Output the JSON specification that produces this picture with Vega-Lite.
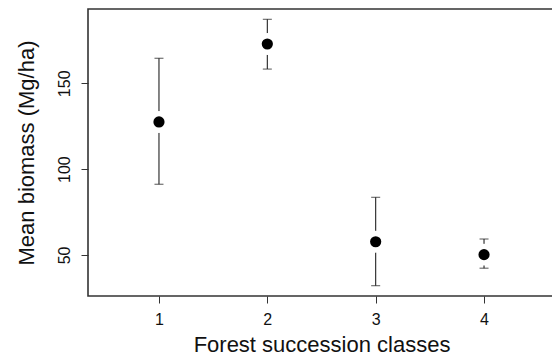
{
  "$schema": "https://vega.github.io/schema/vega-lite/v6.json",
  "autosize": "none",
  "width": 467,
  "height": 287,
  "padding": {"left": 88, "top": 9, "right": 0, "bottom": 67},
  "background": "white",
  "config": {
    "view": {"stroke": "#333333", "strokeWidth": 1.6},
    "font": "Liberation Sans"
  },
  "data": {
    "values": [
      {"cls": 1, "mean": 127.5, "lower": 91.2, "upper": 164.6},
      {"cls": 2, "mean": 172.9, "lower": 158.3, "upper": 187.3},
      {"cls": 3, "mean": 57.7, "lower": 32.1, "upper": 83.6},
      {"cls": 4, "mean": 50.2, "lower": 42.3, "upper": 59.3}
    ]
  },
  "encoding": {
    "x": {
      "field": "cls",
      "type": "quantitative",
      "scale": {"domain": [0.345, 4.655], "nice": false, "zero": false},
      "axis": {
        "values": [1, 2, 3, 4], "title": "Forest succession classes",
        "grid": false, "domain": false, "tickColor": "#333333", "tickSize": 7, "tickWidth": 1,
        "labelFont": "Liberation Sans", "labelFontSize": 16, "labelColor": "#111111", "labelPadding": 8,
        "titleFont": "Liberation Sans", "titleFontSize": 22, "titleFontWeight": "normal", "titleColor": "#111111", "titlePadding": 7
      }
    }
  },
  "layer": [
    {
      "mark": {"type": "rule", "color": "#222222", "strokeWidth": 1.1},
      "encoding": {
        "y": {
          "field": "lower",
          "type": "quantitative",
          "scale": {"domain": [26.1, 193.3], "nice": false, "zero": false},
          "axis": {
            "values": [50, 100, 150], "title": "Mean biomass (Mg/ha)", "labelAngle": -90,
            "grid": false, "domain": false, "tickColor": "#333333", "tickSize": 7, "tickWidth": 1,
            "labelFont": "Liberation Sans", "labelFontSize": 16, "labelColor": "#111111", "labelPadding": 9,
            "titleFont": "Liberation Sans", "titleFontSize": 22, "titleFontWeight": "normal", "titleColor": "#111111", "titlePadding": 18
          }
        },
        "y2": {"field": "upper"}
      }
    },
    {
      "mark": {"type": "tick", "orient": "horizontal", "size": 9, "thickness": 1.1, "color": "#222222"},
      "encoding": {"y": {"field": "upper", "type": "quantitative"}}
    },
    {
      "mark": {"type": "tick", "orient": "horizontal", "size": 9, "thickness": 1.1, "color": "#222222"},
      "encoding": {"y": {"field": "lower", "type": "quantitative"}}
    },
    {
      "mark": {"type": "point", "shape": "circle", "filled": true, "color": "white", "opacity": 1, "size": 480},
      "encoding": {"y": {"field": "mean", "type": "quantitative"}}
    },
    {
      "mark": {"type": "point", "shape": "circle", "filled": true, "color": "black", "opacity": 1, "size": 125},
      "encoding": {"y": {"field": "mean", "type": "quantitative"}}
    }
  ]
}
